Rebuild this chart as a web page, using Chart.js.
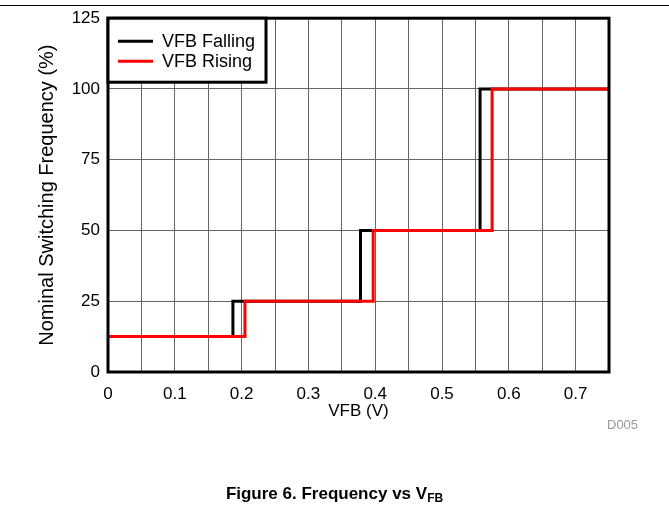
<!DOCTYPE html>
<html>
<head>
<meta charset="utf-8">
<script src="https://cdn.jsdelivr.net/npm/chart.js@4/dist/chart.umd.min.js"></script>
<style>
  html, body { margin: 0; padding: 0; background: #fff; }
  #wrap { position: relative; width: 669px; height: 506px; font-family: "Liberation Sans", Arial, sans-serif; }
  #topline { position: absolute; left: 0; top: 5px; width: 669px; height: 1px; background: #000; }
  #chart { position: absolute; left: 0; top: 0; }
  #code { position: absolute; left: 607px; top: 417px; font-size: 13px; color: #999; }
  #caption { position: absolute; left: 0; width: 669px; top: 484px; text-align: center; font-size: 17px; font-weight: bold; }
  #caption sub { font-size: 12px; vertical-align: -3px; line-height: 0; }
</style>
</head>
<body>
<div id="wrap">
  <div id="topline"></div>
  <canvas id="chart" width="669" height="506"></canvas>
  <div id="code">D005</div>
  <div id="caption">Figure 6. Frequency vs V<sub>FB</sub></div>
</div>
<script>
// Datos
const fallingX = [0, 0.187, 0.378, 0.557, 0.75];
const fallingY = [12.5, 25, 50, 100, 100];
const risingX = [0, 0.205, 0.397, 0.575, 0.75];
const risingY = [12.5, 25, 50, 100, 100];
const seriesNames = ['VFB Falling', 'VFB Rising'];
const seriesColors = ['#000000', '#ff0000'];
const xTicks = [0, 0.1, 0.2, 0.3, 0.4, 0.5, 0.6, 0.7];
const yTicks = [0, 25, 50, 75, 100, 125];

const FONT = '"Liberation Sans", Arial, sans-serif';

function puntos(xs, ys) {
    return xs.map((x, i) => ({ x: x, y: ys[i] }));
}

// Marco grueso alrededor del area de graficado
const marco = {
    id: 'marco',
    afterDatasetsDraw(chart) {
        const a = chart.chartArea;
        const ctx = chart.ctx;
        ctx.save();
        ctx.strokeStyle = '#000';
        ctx.lineWidth = 3;
        ctx.strokeRect(a.left, a.top, a.right - a.left, a.bottom - a.top);
        ctx.restore();
    }
};

// Leyenda dentro del area, esquina superior izquierda
const leyenda = {
    id: 'leyenda',
    afterDraw(chart) {
        const a = chart.chartArea;
        const ctx = chart.ctx;
        const w = 158, h = 64;
        ctx.save();
        ctx.fillStyle = '#fff';
        ctx.fillRect(a.left, a.top, w, h);
        ctx.strokeStyle = '#000';
        ctx.lineWidth = 3;
        ctx.strokeRect(a.left, a.top, w, h);
        ctx.font = '18px ' + FONT;
        ctx.textBaseline = 'middle';
        chart.data.datasets.forEach((ds, i) => {
            const y = a.top + 23 + i * 20;
            ctx.strokeStyle = ds.borderColor;
            ctx.lineWidth = 3;
            ctx.beginPath();
            ctx.moveTo(a.left + 10, y);
            ctx.lineTo(a.left + 45, y);
            ctx.stroke();
            ctx.fillStyle = '#000';
            ctx.fillText(ds.label, a.left + 54, y + 1);
        });
        ctx.restore();
    }
};

new Chart(document.getElementById('chart'), {
    type: 'line',
    data: {
        datasets: [
            {
                label: seriesNames[0],
                data: puntos(fallingX, fallingY),
                borderColor: seriesColors[0],
                borderWidth: 3,
                stepped: true,
                pointRadius: 0,
                fill: false,
                order: 2
            },
            {
                label: seriesNames[1],
                data: puntos(risingX, risingY),
                borderColor: seriesColors[1],
                borderWidth: 3,
                stepped: true,
                pointRadius: 0,
                fill: false,
                order: 1
            }
        ]
    },
    options: {
        responsive: false,
        animation: false,
        layout: { padding: { left: 31, top: 17, right: 60, bottom: 80 } },
        plugins: {
            legend: { display: false },
            tooltip: { enabled: false }
        },
        scales: {
            x: {
                type: 'linear',
                min: 0,
                max: 0.75,
                afterFit: s => { s.height = 54; },
                afterBuildTicks: s => {
                    const t = [];
                    for (let i = 0; i <= 15; i++) t.push({ value: i * 0.05 });
                    s.ticks = t;
                },
                border: { display: false },
                grid: { color: '#666', lineWidth: 1, drawTicks: false },
                ticks: {
                    padding: 12,
                    color: '#000',
                    font: { family: FONT, size: 17 },
                    callback: v => {
                        const r = Math.round(v * 100) / 100;
                        return xTicks.some(t => Math.abs(t - r) < 1e-6) ? String(r) : '';
                    }
                },
                title: {
                    display: true,
                    text: 'VFB (V)',
                    color: '#000',
                    font: { family: FONT, size: 17 }
                }
            },
            y: {
                min: 0,
                max: 125,
                afterFit: s => { s.width = 108 - 31; },
                afterBuildTicks: s => { s.ticks = yTicks.map(v => ({ value: v })); },
                border: { display: false },
                grid: { color: '#666', lineWidth: 1, drawTicks: false },
                ticks: {
                    padding: 8,
                    color: '#000',
                    font: { family: FONT, size: 17 }
                },
                title: {
                    display: true,
                    text: 'Nominal Switching Frequency (%)',
                    color: '#000',
                    font: { family: FONT, size: 20 }
                }
            }
        }
    },
    plugins: [marco, leyenda]
});
</script>
</body>
</html>
